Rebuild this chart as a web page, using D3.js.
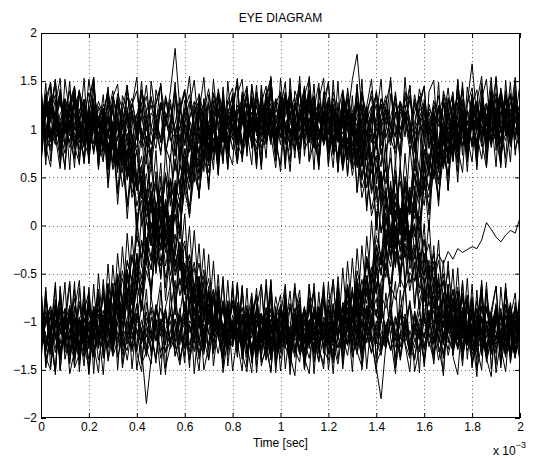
<!DOCTYPE html>
<html>
<head>
<meta charset="utf-8">
<script src="https://cdn.jsdelivr.net/npm/d3@7"></script>
<style>
  body { margin: 0; background: #fff; }
  text { font-family: "Liberation Sans", Arial, Helvetica, sans-serif; fill: #000; }
</style>
</head>
<body>
<svg id="chart" width="535" height="460"></svg>
<script>
// Sample instants of each two-symbol window, in milliseconds
const sampleTimesMs = [0,0.02,0.04,0.06,0.08,0.1,0.12,0.14,0.16,0.18,0.2,0.22,0.24,0.26,0.28,0.3,0.32,0.34,0.36,0.38,0.4,0.42,0.44,0.46,0.48,0.5,0.52,0.54,0.56,0.58,0.6,0.62,0.64,0.66,0.68,0.7,0.72,0.74,0.76,0.78,0.8,0.82,0.84,0.86,0.88,0.9,0.92,0.94,0.96,0.98,1,1.02,1.04,1.06,1.08,1.1,1.12,1.14,1.16,1.18,1.2,1.22,1.24,1.26,1.28,1.3,1.32,1.34,1.36,1.38,1.4,1.42,1.44,1.46,1.48,1.5,1.52,1.54,1.56,1.58,1.6,1.62,1.64,1.66,1.68,1.7,1.72,1.74,1.76,1.78,1.8,1.82,1.84,1.86,1.88,1.9,1.92,1.94,1.96,1.98,2];

const xTickValues = [0,0.2,0.4,0.6,0.8,1,1.2,1.4,1.6,1.8,2];
const yTickValues = [-2,-1.5,-1,-0.5,0,0.5,1,1.5,2];

// Received waveform windows, amplitude in hundredths.
// Grouped by the symbols at t = 0, 1, 2 ms (P = +1, N = -1).
const tracesPPP = [
  [123,92,78,115,131,104,87,69,112,126,98,141,107,83,95,120,76,102,133,118,89,111,146,97,80,124,109,91,72,117,138,101,94,127,85,108,119,66,99,130,113,88,104,143,96,79,121,110,84,128,93,115,137,102,74,106,125,90,117,99,81,132,108,95,120,71,103,139,114,87,98,126,105,83,118,92,134,109,77,100,123,96,112,86,129,107,80,118,141,93,104,75,116,127,99,88,113,136,82,108,119],
  [95,118,134,109,81,97,125,140,103,86,72,108,129,114,90,99,137,121,84,105,116,93,70,101,128,145,112,88,96,119,107,82,124,135,98,77,110,131,94,115,103,86,139,120,91,74,108,126,117,83,100,133,96,112,79,122,140,105,89,118,127,94,73,109,121,102,86,136,113,97,80,115,130,104,92,125,110,78,99,142,117,88,106,123,95,71,112,134,101,85,119,128,93,107,81,114,139,98,90,124,106],
  [108,87,119,136,97,75,103,128,112,90,124,101,79,115,139,94,106,83,121,132,99,113,88,76,110,127,104,139,184,121,96,84,117,130,102,89,125,108,73,114,137,98,106,120,85,111,93,129,104,78,116,133,97,87,122,109,141,100,82,119,105,126,91,113,138,95,76,110,124,99,87,131,115,102,80,118,106,135,93,112,127,84,98,120,109,143,96,79,115,101,88,123,110,94,132,105,77,117,128,99,111],
  [88,112,127,99,142,106,81,95,118,130,104,77,109,122,96,134,113,86,101,125,140,97,83,117,108,91,129,111,74,103,120,136,98,85,114,127,102,89,131,107,79,116,124,93,105,138,100,87,119,112,84,128,109,96,121,143,92,80,115,106,133,99,88,124,110,152,178,118,94,107,126,83,113,101,139,90,117,105,76,122,114,97,130,108,86,119,135,93,104,127,168,111,82,116,99,124,137,95,108,89,118],
  [131,104,90,116,79,98,123,137,109,85,113,96,72,106,128,119,91,102,140,117,94,81,110,125,103,88,134,115,97,76,108,129,101,120,92,84,117,139,106,95,126,111,87,99,133,114,80,105,122,96,109,137,91,78,116,130,102,89,124,112,97,83,118,141,107,93,128,100,115,86,104,132,119,90,75,111,125,98,136,108,92,117,103,81,129,114,99,145,110,87,121,106,94,127,84,113,138,101,96,119,107],
  [62,131,149,88,107,58,124,143,71,96,152,113,67,84,138,101,55,119,146,79,93,128,64,150,110,73,135,97,57,122,141,86,68,117,154,92,76,133,105,60,127,148,81,99,63,139,115,70,151,94,56,121,137,78,104,145,66,89,130,153,74,112,59,140,98,82,147,65,118,134,87,61,126,150,95,72,139,108,57,123,144,80,101,62,136,117,69,152,91,77,129,58,142,106,85,155,68,114,137,79,96],
  [145,83,61,118,139,97,150,72,109,64,127,154,86,99,58,133,115,69,146,91,76,140,121,60,103,148,82,66,131,112,57,125,151,94,73,136,107,63,144,87,119,153,70,98,129,61,142,84,111,67,138,100,56,123,147,79,90,134,62,116,150,85,71,128,104,59,141,93,124,68,113,152,77,96,135,63,120,145,88,58,131,102,74,149,66,117,139,81,55,126,143,95,69,110,154,78,132,60,105,140,84]
];
const tracesNNN = [
  [-112,-89,-127,-101,-78,-118,-135,-96,-107,-84,-121,-99,-140,-113,-87,-104,-126,-92,-75,-110,-131,-98,-116,-85,-102,-138,-119,-90,-106,-124,-79,-111,-97,-133,-120,-88,-103,-115,-142,-94,-108,-83,-125,-117,-96,-74,-109,-130,-101,-122,-91,-114,-136,-105,-86,-119,-98,-128,-111,-80,-97,-123,-144,-107,-89,-115,-102,-132,-118,-93,-76,-110,-126,-99,-113,-137,-95,-84,-121,-106,-129,-100,-88,-116,-134,-109,-92,-119,-103,-81,-114,-139,-97,-108,-125,-90,-117,-131,-86,-104,-120],
  [-94,-121,-108,-83,-130,-115,-99,-76,-112,-137,-103,-88,-119,-126,-95,-109,-81,-134,-117,-100,-91,-128,-185,-139,-105,-86,-113,-122,-97,-141,-110,-84,-118,-102,-129,-93,-79,-116,-135,-107,-98,-124,-111,-87,-140,-120,-92,-105,-131,-114,-82,-101,-127,-96,-117,-143,-108,-89,-123,-99,-112,-136,-85,-104,-125,-97,-118,-78,-109,-132,-115,-90,-106,-129,-101,-87,-122,-138,-94,-111,-127,-103,-80,-116,-133,-98,-107,-124,-89,-113,-142,-100,-119,-86,-105,-128,-111,-95,-134,-117,-92],
  [-106,-131,-95,-117,-88,-102,-124,-139,-110,-81,-99,-115,-128,-93,-107,-136,-120,-85,-101,-113,-126,-79,-104,-118,-97,-132,-109,-90,-123,-145,-111,-87,-100,-121,-134,-96,-114,-83,-108,-127,-119,-92,-138,-105,-84,-116,-129,-98,-112,-74,-103,-125,-141,-94,-109,-120,-86,-117,-131,-100,-89,-113,-127,-106,-96,-135,-118,-82,-104,-122,-148,-180,-124,-99,-115,-87,-110,-133,-102,-119,-91,-126,-108,-140,-114,-97,-121,-85,-103,-130,-116,-93,-107,-137,-120,-88,-111,-125,-99,-134,-105],
  [-125,-98,-84,-113,-137,-106,-92,-119,-101,-130,-87,-110,-123,-96,-141,-114,-103,-78,-117,-128,-94,-108,-132,-120,-89,-105,-116,-99,-135,-111,-82,-124,-107,-93,-118,-139,-101,-86,-112,-127,-104,-95,-133,-115,-80,-109,-122,-97,-136,-113,-90,-119,-105,-128,-142,-98,-84,-111,-126,-102,-117,-131,-93,-108,-120,-85,-114,-138,-100,-123,-109,-77,-115,-129,-96,-118,-104,-134,-91,-112,-140,-106,-88,-121,-99,-116,-131,-95,-110,-125,-83,-107,-119,-136,-101,-92,-114,-128,-97,-110,-122],
  [-97,-114,-132,-90,-108,-121,-83,-103,-127,-116,-139,-100,-88,-111,-125,-94,-118,-106,-82,-131,-109,-122,-96,-113,-138,-101,-86,-119,-128,-93,-105,-140,-117,-98,-124,-89,-110,-133,-102,-115,-126,-91,-107,-120,-99,-137,-112,-85,-104,-129,-118,-96,-81,-110,-134,-123,-100,-113,-92,-127,-106,-143,-115,-88,-101,-121,-130,-97,-109,-84,-119,-135,-103,-112,-94,-126,-117,-80,-108,-131,-99,-114,-124,-90,-138,-105,-111,-127,-95,-118,-102,-86,-129,-116,-107,-133,-93,-120,-111,-98,-125],
  [-63,-142,-118,-77,-151,-95,-58,-130,-109,-146,-71,-124,-153,-88,-102,-60,-137,-116,-74,-149,-97,-65,-128,-144,-83,-110,-155,-69,-121,-92,-57,-139,-105,-79,-150,-126,-66,-98,-143,-86,-114,-61,-133,-152,-90,-72,-127,-108,-56,-141,-119,-80,-147,-64,-101,-136,-75,-154,-93,-68,-131,-112,-59,-145,-87,-122,-70,-150,-104,-62,-138,-96,-125,-73,-148,-115,-58,-132,-89,-153,-67,-120,-140,-84,-106,-61,-135,-99,-146,-78,-111,-157,-71,-129,-94,-63,-143,-117,-82,-134,-100],
  [-134,-76,-105,-152,-63,-119,-141,-88,-57,-127,-146,-94,-69,-138,-112,-60,-150,-83,-123,-99,-66,-144,-131,-74,-108,-155,-85,-62,-136,-117,-92,-148,-70,-125,-58,-140,-103,-79,-153,-115,-64,-129,-97,-147,-73,-110,-139,-56,-121,-86,-151,-106,-68,-133,-91,-145,-61,-118,-142,-77,-101,-154,-84,-126,-65,-137,-113,-72,-149,-95,-59,-130,-116,-81,-146,-67,-124,-152,-89,-108,-143,-62,-120,-98,-156,-75,-132,-111,-60,-139,-87,-127,-150,-70,-104,-145,-64,-118,-135,-80,-122]
];
const tracesPPN = [
  [117,94,82,109,128,101,86,123,139,97,111,78,104,126,115,92,133,107,88,120,99,141,113,84,96,125,108,131,90,102,118,76,105,129,112,93,137,100,87,121,110,96,134,81,106,124,99,115,143,89,103,127,92,116,79,108,130,95,119,104,112,78,115,87,117,73,90,51,85,54,72,24,39,-4,24,-9,10,-37,-20,-65,-35,-71,-43,-92,-74,-107,-75,-106,-75,-114,-91,-118,-96,-129,-105,-84,-112,-137,-99,-108,-123],
  [102,125,89,113,137,96,108,80,119,131,94,106,122,87,115,140,99,83,111,127,105,91,118,134,98,77,112,124,101,88,130,109,95,121,84,103,138,116,92,107,126,99,81,114,133,97,110,86,120,104,91,128,113,100,82,117,135,82,113,89,116,75,98,57,90,60,78,29,53,17,41,-8,13,-32,-12,-46,-18,-60,-42,-88,-62,-97,-67,-100,-77,-122,-86,-107,-94,-121,-110,-86,-133,-102,-117,-91,-126,-108,-80,-115,-139],
  [91,114,130,103,85,120,97,136,110,82,123,106,94,117,139,100,88,128,112,75,108,121,98,132,115,86,104,126,93,119,141,101,84,113,127,96,109,122,90,117,134,99,80,106,125,114,92,138,103,87,118,129,97,111,83,124,106,135,94,116,101,125,108,82,121,83,98,67,99,65,89,45,59,19,47,10,31,-15,0,-40,-14,-49,-29,-76,-57,-96,-66,-96,-70,-109,-88,-118,-84,-103,-127,-95,-114,-88,-131,-106,-119],
  [109,135,98,84,116,127,93,105,140,119,87,101,124,112,79,96,131,108,120,90,114,137,102,85,99,128,117,94,106,133,83,111,125,97,118,142,104,89,115,100,122,92,107,136,81,113,126,98,110,88,129,103,95,121,137,108,86,117,99,87,118,76,105,105,68,102,60,77,39,67,31,52,5,20,-21,5,-33,-7,-58,-39,-79,-51,-84,-60,-102,-82,-117,-81,-109,-80,-112,-97,-128,-104,-89,-122,-115,-134,-100,-86,-118],
  [126,97,112,88,104,131,118,92,79,115,138,106,95,121,109,84,127,100,116,93,81,119,134,103,90,124,111,97,142,108,86,113,129,99,117,94,105,136,122,89,102,118,83,125,110,96,133,107,91,120,114,87,139,101,98,123,106,128,93,111,99,122,88,107,77,106,94,62,97,55,73,42,60,11,33,-3,22,-22,-2,-54,-29,-66,-37,-78,-57,-102,-76,-107,-76,-110,-77,-115,-97,-124,-109,-88,-131,-102,-116,-93,-127],
  [138,72,119,151,87,61,128,145,96,66,113,150,79,104,58,133,147,90,70,125,154,84,109,63,141,118,75,99,149,68,122,92,57,137,115,80,152,101,64,130,143,86,71,127,108,59,146,95,117,74,134,62,153,89,105,139,67,121,148,83,100,60,128,64,120,65,129,61,112,36,94,26,85,12,67,-10,44,-28,27,-51,2,-76,-21,-96,-36,-103,-45,-118,-57,-122,-61,-132,-70,-141,-88,-63,-126,-152,-95,-70,-134],
  [67,124,148,93,59,116,140,81,102,153,76,129,61,111,144,88,65,135,120,57,97,150,84,68,126,146,73,107,139,62,118,155,90,71,131,99,58,142,114,79,63,136,152,86,104,69,127,145,94,60,121,149,78,110,64,133,98,147,69,132,61,124,57,123,53,109,35,96,20,75,-5,51,-23,35,-41,15,-60,-7,-86,-29,-102,-42,-111,-50,-124,-66,-134,-69,-127,-72,-148,-106,-61,-137,-90,-153,-118,-66,-129,-84,-145]
];
const tracesNNP = [
  [-104,-127,-91,-116,-138,-99,-85,-112,-123,-96,-108,-132,-117,-89,-101,-126,-94,-113,-140,-105,-82,-119,-107,-130,-98,-115,-88,-124,-111,-93,-136,-103,-120,-86,-109,-129,-97,-114,-80,-118,-125,-100,-92,-133,-110,-87,-121,-106,-139,-95,-113,-128,-84,-102,-117,-131,-99,-90,-122,-108,-116,-114,-79,-109,-78,-112,-74,-89,-52,-83,-48,-70,-23,-43,0,-27,14,-11,37,22,61,36,77,47,86,64,109,81,110,79,110,79,113,96,128,104,87,120,137,99,110],
  [-93,-115,-130,-102,-86,-121,-109,-137,-98,-112,-124,-90,-106,-118,-81,-133,-100,-127,-114,-95,-109,-140,-103,-88,-120,-97,-131,-111,-84,-117,-126,-99,-107,-135,-92,-113,-122,-86,-104,-129,-111,-96,-118,-83,-134,-105,-91,-123,-110,-100,-128,-94,-115,-137,-102,-87,-119,-108,-84,-114,-77,-104,-77,-109,-68,-91,-47,-71,-34,-60,-21,-41,8,-13,32,9,48,20,62,41,88,65,101,72,103,75,114,86,118,93,108,125,87,114,131,102,96,119,84,110,127],
  [-118,-97,-84,-110,-129,-106,-93,-121,-139,-101,-88,-114,-125,-99,-108,-133,-91,-117,-104,-126,-81,-112,-136,-95,-120,-103,-89,-128,-115,-98,-107,-131,-86,-119,-102,-124,-94,-113,-140,-109,-83,-116,-127,-100,-92,-122,-111,-135,-97,-105,-119,-88,-130,-108,-96,-114,-125,-90,-103,-117,-109,-81,-118,-83,-72,-100,-59,-84,-53,-81,-31,-52,-9,-35,-1,-20,26,11,54,26,59,38,81,55,92,79,112,82,108,78,114,101,126,92,115,138,104,88,121,109,96],
  [-99,-123,-110,-87,-134,-116,-101,-92,-127,-108,-119,-137,-95,-106,-124,-85,-113,-130,-100,-118,-91,-109,-126,-114,-82,-103,-132,-120,-97,-111,-128,-89,-105,-139,-116,-94,-121,-107,-86,-125,-112,-98,-131,-104,-117,-90,-135,-109,-122,-96,-84,-115,-127,-102,-93,-120,-138,-106,-113,-99,-124,-89,-111,-80,-111,-90,-114,-69,-98,-66,-95,-58,-42,-69,-27,-52,-4,-21,19,-6,41,19,57,29,72,51,95,71,104,71,104,83,119,89,116,99,131,107,92,124,112],
  [-111,-88,-126,-103,-95,-132,-117,-84,-109,-121,-100,-136,-92,-114,-127,-105,-81,-118,-130,-97,-108,-123,-90,-115,-139,-102,-94,-119,-111,-86,-125,-104,-131,-96,-112,-82,-120,-107,-135,-99,-117,-89,-128,-106,-93,-122,-113,-140,-98,-110,-87,-124,-116,-101,-133,-92,-108,-119,-96,-117,-86,-106,-74,-105,-69,-101,-63,-80,-38,-62,-24,-49,-10,-32,15,1,42,14,51,31,79,56,92,59,100,73,116,89,114,80,107,129,94,115,86,122,103,136,98,111,90],
  [-128,-64,-147,-101,-73,-139,-116,-58,-152,-89,-69,-133,-108,-155,-82,-121,-61,-144,-97,-74,-150,-113,-66,-136,-92,-59,-148,-125,-79,-104,-143,-63,-118,-151,-86,-70,-131,-110,-57,-146,-99,-137,-68,-124,-153,-81,-114,-62,-140,-95,-72,-149,-106,-60,-134,-120,-85,-68,-133,-62,-124,-56,-119,-44,-104,-34,-95,-21,-74,5,-51,24,-29,46,-12,61,5,83,31,102,41,112,51,124,65,133,67,128,73,144,109,62,131,152,88,119,66,140,97,151,78],
  [-76,-141,-112,-59,-150,-93,-127,-66,-145,-104,-155,-84,-119,-62,-137,-98,-71,-148,-115,-60,-132,-152,-80,-108,-143,-67,-124,-90,-57,-139,-117,-74,-154,-96,-129,-63,-146,-102,-78,-135,-58,-122,-151,-87,-110,-65,-142,-130,-73,-153,-94,-61,-138,-116,-82,-149,-105,-69,-127,-144,-88,-56,-121,-130,-64,-131,-58,-120,-53,-117,-43,-101,-23,-81,-6,-64,16,-40,33,-25,51,-6,75,20,96,36,108,45,117,56,128,69,135,69,148,91,63,137,115,154,76]
];
const tracesPNP = [
  [106,129,91,117,98,84,122,135,103,112,84,118,87,117,82,101,60,84,50,79,37,57,9,33,-5,20,-28,-7,-40,-20,-67,-47,-89,-58,-91,-68,-106,-84,-117,-85,-112,-97,-124,-108,-89,-131,-115,-102,-93,-120,-138,-106,-85,-117,-127,-99,-111,-134,-92,-104,-122,-87,-119,-82,-107,-71,-103,-70,-94,-50,-70,-28,-54,-13,-40,2,-17,31,7,43,21,66,50,87,59,94,66,107,83,118,83,111,96,123,108,87,132,101,115,93,126],
  [94,118,133,102,87,114,125,99,111,81,113,74,108,77,100,58,79,40,71,29,47,0,27,-12,9,-37,-18,-63,-35,-73,-46,-85,-63,-107,-78,-112,-77,-109,-83,-116,-101,-129,-92,-110,-135,-98,-121,-87,-107,-126,-113,-95,-140,-104,-118,-89,-124,-100,-112,-119,-87,-112,-76,-102,-66,-96,-65,-85,-39,-65,-20,-41,-3,-30,16,-1,43,15,54,30,76,53,95,69,102,72,109,87,119,86,112,97,130,105,88,121,139,100,116,92,108],
  [119,95,108,131,86,113,124,100,139,92,117,104,90,120,80,108,71,104,68,94,49,72,34,61,20,40,-10,11,-24,0,-50,-30,-63,-39,-77,-55,-95,-75,-112,-79,-111,-80,-118,-103,-127,-94,-112,-86,-120,-136,-99,-109,-123,-91,-115,-130,-101,-88,-118,-107,-133,-96,-82,-112,-78,-112,-79,-106,-65,-87,-46,-77,-39,-61,-17,-36,11,-14,28,1,45,29,70,43,79,54,98,76,111,79,111,79,117,98,125,110,89,133,106,94,120],
  [101,126,88,115,137,97,109,84,121,119,85,108,76,106,66,92,59,89,49,64,20,42,4,32,-16,3,-42,-15,-52,-30,-72,-51,-94,-70,-101,-69,-108,-84,-120,-90,-113,-98,-125,-105,-88,-134,-117,-96,-109,-128,-92,-114,-139,-102,-120,-87,-111,-124,-99,-106,-112,-82,-119,-85,-108,-68,-93,-56,-81,-43,-71,-28,-47,-1,-24,18,-10,33,13,62,39,75,48,87,61,103,79,114,82,109,81,124,103,90,117,131,96,112,85,127,108],
  [113,90,127,104,96,132,118,87,109,123,99,79,112,82,114,79,108,62,87,58,77,28,54,13,43,-2,17,-30,-9,-47,-21,-62,-44,-85,-52,-94,-71,-111,-82,-114,-78,-110,-121,-94,-108,-133,-100,-117,-86,-126,-111,-97,-138,-104,-115,-90,-123,-107,-90,-117,-85,-116,-75,-99,-61,-90,-55,-80,-32,-53,-10,-34,6,-20,24,3,51,27,67,39,78,58,103,74,109,85,115,87,121,95,114,128,101,86,119,107,135,93,110,124,98],
  [146,71,118,152,63,129,97,130,63,131,64,127,58,115,39,97,22,82,7,68,-9,45,-33,26,-50,3,-78,-19,-93,-31,-104,-48,-122,-60,-131,-69,-133,-63,-148,-82,-121,-59,-139,-104,-70,-153,-95,-128,-63,-146,-111,-76,-135,-156,-88,-117,-61,-142,-99,-72,-150,-107,-65,-129,-62,-128,-60,-123,-52,-108,-30,-90,-16,-77,-1,-56,23,-36,41,-13,67,11,85,26,98,37,115,56,127,66,131,64,130,74,139,112,60,151,93,126,68],
  [64,137,108,151,79,122,58,143,96,71,130,154,86,66,130,62,130,62,120,44,104,32,93,19,78,1,55,-26,30,-45,12,-65,-5,-79,-24,-98,-37,-111,-53,-127,-66,-131,-64,-130,-91,-147,-62,-118,-153,-84,-129,-67,-141,-105,-75,-150,-98,-133,-69,-133,-59,-122,-53,-111,-37,-100,-24,-86,-11,-65,15,-41,34,-23,57,1,75,13,90,33,110,51,122,58,131,68,133,65,143,92,66,128,155,81,114,61,137,102,149,73,120]
];
const tracesNPN = [
  [-108,-125,-93,-117,-101,-86,-130,-112,-97,-121,-85,-118,-86,-111,-70,-99,-63,-94,-54,-74,-29,-55,-12,-33,10,-11,27,2,44,25,72,48,85,61,101,70,105,75,110,82,119,97,123,108,86,131,114,100,92,126,139,105,118,88,110,135,99,121,94,113,86,120,86,111,71,100,64,95,56,76,30,56,18,41,-7,13,-31,-5,-44,-21,-61,-42,-87,-60,-97,-68,-104,-75,-112,-82,-120,-96,-113,-129,-104,-88,-122,-110,-137,-99,-116],
  [-97,-114,-131,-105,-89,-122,-108,-136,-95,-117,-128,-101,-112,-111,-82,-118,-81,-104,-65,-92,-58,-88,-47,-67,-20,-42,-4,-29,12,-6,43,20,59,33,72,46,91,69,107,74,106,77,115,89,118,102,129,93,111,87,124,136,106,98,115,132,90,109,121,84,127,103,116,86,119,78,103,66,97,62,86,38,62,23,52,7,21,-19,2,-41,-15,-55,-29,-71,-50,-95,-68,-103,-70,-107,-80,-119,-87,-109,-126,-94,-115,-133,-101,-120,-90],
  [-119,-102,-88,-127,-111,-94,-135,-106,-79,-111,-80,-116,-80,-104,-60,-86,-50,-79,-36,-58,-9,-34,6,-21,23,4,53,29,69,43,78,54,97,76,112,80,110,81,115,102,126,91,113,138,97,109,122,85,116,131,100,94,119,107,140,88,112,81,113,88,116,73,99,60,91,52,80,39,57,10,32,-6,22,-23,-4,-51,-28,-68,-38,-80,-55,-102,-73,-109,-73,-109,-81,-116,-98,-124,-107,-89,-132,-115,-101,-119,-93,-128,-110,-85,-121],
  [-103,-129,-115,-92,-108,-121,-86,-134,-99,-112,-125,-113,-79,-113,-83,-110,-71,-93,-53,-83,-49,-69,-25,-46,0,-23,18,-10,34,16,63,37,78,55,90,62,99,75,115,85,117,85,111,94,128,103,87,120,136,98,115,106,82,124,109,131,95,117,101,89,126,113,97,112,79,114,82,111,71,95,55,80,43,70,28,46,2,24,-12,10,-36,-19,-60,-36,-75,-47,-86,-64,-107,-78,-111,-78,-111,-84,-117,-96,-130,-108,-89,-123,-104],
  [-91,-116,-134,-100,-123,-87,-110,-128,-97,-88,-120,-84,-107,-74,-107,-68,-88,-47,-72,-33,-61,-17,-39,2,-14,31,9,49,20,63,45,87,62,95,67,104,78,119,87,114,93,121,107,134,99,86,118,110,127,95,104,139,116,90,112,125,101,83,120,89,116,79,109,79,107,67,86,47,73,33,61,19,35,-10,11,-27,-1,-45,-24,-70,-46,-84,-54,-93,-70,-111,-81,-115,-86,-121,-105,-88,-119,-131,-97,-112,-126,-93,-108,-137,-101],
  [-139,-68,-121,-152,-85,-107,-61,-145,-96,-130,-73,-154,-67,-136,-68,-129,-55,-118,-46,-107,-30,-89,-16,-77,0,-56,20,-34,47,-10,66,8,86,29,101,38,112,52,124,58,128,65,136,72,145,109,63,131,152,88,120,59,141,97,68,135,153,84,69,135,64,125,55,120,51,111,34,90,15,74,0,56,-27,31,-44,16,-64,-11,-86,-28,-101,-38,-112,-52,-121,-61,-133,-68,-134,-75,-146,-112,-63,-138,-157,-90,-124,-66,-143,-101,-80],
  [-71,-148,-116,-63,-140,-95,-154,-130,-65,-134,-64,-126,-50,-112,-40,-103,-29,-85,-8,-68,9,-44,36,-21,56,-2,78,20,93,32,105,45,121,61,132,65,130,64,139,81,117,152,66,127,98,146,74,110,155,85,63,134,119,70,148,92,129,58,143,105,77,151,88,134,69,135,62,122,51,116,43,103,25,81,4,64,-15,40,-35,24,-52,6,-71,-15,-95,-37,-108,-44,-117,-55,-130,-67,-135,-66,-149,-92,-126,-60,-141,-110,-73]
];
const tracesPNN = [
  [115,98,131,86,109,124,102,137,93,118,88,115,78,108,76,106,70,92,47,70,36,62,15,32,-11,16,-22,-1,-48,-30,-70,-41,-79,-53,-96,-73,-111,-78,-110,-78,-113,-96,-121,-108,-87,-133,-114,-102,-126,-91,-118,-105,-139,-99,-112,-84,-124,-110,-131,-95,-107,-120,-88,-116,-135,-101,-93,-127,-111,-98,-123,-86,-109,-130,-117,-103,-92,-125,-140,-106,-114,-97,-122,-89,-113,-129,-100,-118,-85,-108,-134,-119,-94,-111,-127,-102,-90,-115,-132,-104,-121],
  [104,127,92,113,138,99,86,117,86,117,74,104,71,101,62,83,38,61,24,51,9,26,-20,1,-38,-10,-54,-34,-80,-55,-90,-60,-99,-73,-116,-87,-115,-80,-110,-126,-93,-115,-104,-88,-131,-119,-97,-108,-136,-101,-123,-90,-114,-127,-106,-85,-118,-112,-99,-129,-140,-105,-92,-117,-124,-96,-111,-133,-87,-120,-103,-115,-128,-94,-109,-137,-100,-122,-113,-89,-125,-106,-98,-131,-116,-91,-119,-104,-135,-110,-96,-121,-127,-86,-112,-124,-101,-117,-93,-130,-107],
  [96,119,133,107,88,124,112,99,141,91,116,103,114,78,110,81,112,74,96,53,78,45,70,29,48,1,22,-14,11,-32,-16,-61,-38,-75,-46,-85,-66,-108,-79,-110,-78,-110,-85,-117,-101,-128,-94,-110,-136,-105,-89,-122,-113,-98,-131,-107,-119,-84,-126,-103,-115,-139,-96,-111,-124,-90,-108,-130,-118,-100,-87,-125,-114,-102,-137,-93,-120,-109,-127,-97,-116,-88,-133,-106,-121,-112,-95,-129,-104,-118,-91,-123,-110,-99,-134,-115,-86,-120,-107,-128,-101],
  [121,100,87,114,130,95,108,126,92,85,120,85,111,70,99,65,93,55,80,34,53,11,37,-2,21,-26,-9,-52,-25,-62,-39,-82,-62,-101,-71,-103,-74,-113,-87,-118,-103,-125,-94,-111,-137,-99,-116,-88,-129,-107,-120,-96,-113,-132,-101,-90,-124,-109,-141,-115,-93,-106,-127,-118,-85,-112,-134,-100,-122,-97,-110,-130,-104,-89,-119,-126,-95,-114,-138,-102,-117,-91,-123,-108,-99,-135,-111,-87,-128,-105,-120,-94,-113,-131,-100,-118,-92,-125,-109,-136,-97],
  [109,134,96,118,84,103,127,113,91,122,100,121,83,111,76,105,67,93,57,87,43,63,21,45,4,30,-16,3,-41,-17,-58,-30,-72,-53,-94,-68,-104,-71,-108,-84,-119,-87,-114,-98,-127,-105,-91,-120,-136,-102,-117,-88,-124,-110,-96,-131,-107,-119,-85,-128,-112,-100,-139,-93,-116,-104,-125,-90,-113,-133,-99,-121,-108,-87,-126,-115,-97,-130,-103,-118,-92,-111,-135,-101,-123,-94,-109,-128,-116,-89,-106,-120,-98,-132,-112,-86,-125,-104,-117,-137,-95],
  [92,148,67,125,153,81,110,60,139,118,74,146,101,136,68,133,59,121,53,118,44,101,23,81,6,65,-9,46,-31,25,-55,-1,-77,-19,-94,-30,-107,-51,-123,-57,-126,-62,-129,-65,-143,-86,-61,-128,-151,-97,-119,-68,-145,-106,-75,-138,-154,-90,-113,-59,-134,-122,-71,-149,-101,-64,-131,-147,-83,-116,-153,-69,-125,-94,-58,-140,-109,-78,-152,-127,-66,-99,-144,-87,-120,-62,-136,-155,-92,-73,-130,-111,-57,-142,-118,-81,-148,-65,-103,-137,-76],
  [128,63,144,97,71,152,115,82,65,129,65,132,61,121,45,105,33,95,19,76,-5,52,-25,33,-47,9,-65,-5,-81,-24,-100,-37,-111,-53,-127,-64,-133,-63,-130,-88,-151,-114,-62,-137,-99,-72,-146,-124,-58,-133,-105,-80,-155,-91,-67,-141,-118,-60,-127,-149,-84,-110,-65,-139,-96,-152,-76,-121,-103,-57,-143,-130,-70,-117,-154,-86,-63,-135,-108,-79,-147,-98,-61,-126,-153,-89,-115,-68,-140,-102,-74,-150,-123,-59,-132,-94,-145,-82,-111,-138,-66]
];
const tracesNPP = [
  [-112,-95,-128,-103,-87,-121,-109,-134,-98,-116,-87,-116,-77,-108,-75,-108,-69,-92,-46,-71,-33,-62,-18,-37,11,-13,27,0,44,24,71,46,83,53,93,70,112,83,115,78,112,96,123,108,87,131,115,102,139,93,119,106,84,127,112,98,135,120,91,109,124,101,88,117,132,97,113,126,85,110,137,99,121,104,92,129,116,89,107,134,100,118,95,125,111,86,130,103,122,94,114,128,90,105,136,98,119,112,87,124,102],
  [-99,-124,-111,-86,-130,-105,-117,-93,-138,-108,-120,-96,-114,-120,-87,-114,-75,-103,-70,-102,-61,-84,-37,-63,-25,-52,-8,-26,22,-3,37,11,54,33,80,55,91,60,100,75,116,85,116,80,113,97,126,104,89,132,118,101,94,123,109,137,86,115,128,99,107,121,92,134,103,117,88,125,111,96,140,106,119,90,127,100,114,85,131,108,122,95,116,103,129,91,112,138,98,120,105,87,124,110,97,133,115,102,89,126,108],
  [-126,-101,-88,-115,-133,-97,-110,-122,-83,-112,-79,-116,-78,-103,-61,-86,-51,-80,-38,-57,-11,-33,6,-21,22,5,51,29,66,38,80,58,102,75,107,74,110,83,120,104,89,118,131,96,110,125,100,137,92,115,107,84,122,133,98,112,120,90,127,106,94,139,113,101,86,119,128,97,109,124,88,116,135,103,93,121,108,130,99,114,87,126,105,118,132,95,111,123,100,91,136,107,117,85,129,112,98,120,104,133,94],
  [-106,-131,-92,-118,-100,-125,-87,-113,-139,-97,-120,-112,-78,-112,-79,-110,-75,-97,-54,-80,-43,-70,-29,-46,0,-22,15,-10,33,15,61,37,75,47,86,65,107,78,111,78,112,84,119,102,135,93,111,124,88,107,130,98,116,127,91,105,138,113,100,86,121,109,95,132,117,103,126,90,112,140,99,108,123,87,114,129,101,96,118,134,106,92,125,110,97,131,115,89,120,104,137,100,111,93,128,116,85,122,106,133,98],
  [-118,-94,-107,-132,-100,-123,-89,-115,-129,-81,-111,-85,-115,-70,-100,-65,-95,-55,-75,-30,-54,-15,-41,3,-16,30,8,47,21,63,43,87,61,97,67,104,79,118,86,116,98,125,110,87,133,104,119,92,138,107,114,95,128,101,89,122,136,106,117,93,130,111,99,124,85,116,103,139,94,120,108,126,91,113,134,100,118,88,127,105,96,121,112,135,90,109,124,102,131,97,115,86,123,106,140,99,117,128,93,110,126],
  [-64,-137,-150,-82,-113,-59,-144,-98,-127,-70,-153,-106,-66,-131,-62,-125,-58,-124,-50,-108,-31,-89,-15,-72,6,-54,20,-36,41,-14,65,11,86,28,102,37,111,53,128,65,132,66,130,76,147,112,61,135,153,90,121,67,142,99,155,72,128,108,58,139,117,84,150,63,131,96,146,70,124,152,87,110,60,137,103,78,154,93,64,129,145,81,115,57,140,120,69,151,98,75,133,106,148,62,126,91,143,113,66,138,85],
  [-141,-78,-112,-155,-66,-129,-95,-148,-133,-63,-128,-61,-127,-56,-116,-41,-97,-22,-83,-11,-67,13,-40,36,-23,51,-6,74,20,95,36,108,45,118,56,128,68,135,67,150,93,64,127,145,80,111,58,136,119,71,153,102,66,140,124,85,155,97,61,130,148,77,114,59,143,106,89,152,68,121,137,74,100,154,63,128,92,146,83,115,57,139,151,79,108,65,133,96,149,72,125,141,88,60,118,153,99,70,134,110,147]
];
// Last window of the record: the signal dies away towards zero
const finalTrace = [112,96,123,101,88,117,106,130,94,109,92,113,86,104,77,97,68,86,57,73,38,51,17,33,1,11,-23,-11,-43,-27,-60,-47,-81,-64,-93,-74,-101,-83,-112,-89,-109,-97,-118,-104,-89,-126,-110,-95,-121,-107,-132,-99,-113,-86,-119,-102,-128,-94,-111,-124,-100,-115,-90,-108,-122,-96,-112,-88,-101,-79,-94,-72,-86,-63,-77,-55,-68,-49,-58,-41,-52,-36,-45,-30,-40,-27,-35,-24,-28,-25,-22,-24,-15,3,-4,-12,-17,-10,-5,-8,8];

const traceGroups = [tracesPPP, tracesNNN, tracesPPN, tracesNNP, tracesPNP, tracesNPN, tracesPNN, tracesNPP, [finalTrace]];

// ---- layout ----
const W = 535, H = 460;
const plot = { left: 41, right: 520, top: 33, bottom: 418 };

const x = d3.scaleLinear().domain([0, 2]).range([plot.left, plot.right]);
const y = d3.scaleLinear().domain([-2, 2]).range([plot.bottom, plot.top]);
const fmt = d3.format("~g");

const svg = d3.select("#chart");
svg.append("rect").attr("width", W).attr("height", H).attr("fill", "#fff");

svg.append("defs").append("clipPath").attr("id", "plot-clip")
  .append("rect")
  .attr("x", plot.left).attr("y", plot.top)
  .attr("width", plot.right - plot.left).attr("height", plot.bottom - plot.top);

// dotted grid
const grid = svg.append("g")
  .attr("stroke", "#000").attr("stroke-width", 1)
  .attr("stroke-dasharray", "1,3").attr("stroke-opacity", 0.6);
grid.selectAll("line.vx")
  .data(xTickValues.filter(v => v > 0 && v < 2))
  .join("line")
  .attr("x1", d => Math.round(x(d)) + 0.5).attr("x2", d => Math.round(x(d)) + 0.5)
  .attr("y1", plot.top).attr("y2", plot.bottom);
grid.selectAll("line.hy")
  .data(yTickValues.filter(v => v > -2 && v < 2))
  .join("line")
  .attr("y1", d => Math.round(y(d)) + 0.5).attr("y2", d => Math.round(y(d)) + 0.5)
  .attr("x1", plot.left).attr("x2", plot.right);

// eye traces
const line = d3.line()
  .defined((d, i) => i < sampleTimesMs.length)
  .x((d, i) => x(sampleTimesMs[i]))
  .y(d => y(d / 100));

const traces = svg.append("g").attr("clip-path", "url(#plot-clip)");
traceGroups.forEach(group => {
  traces.append("g").selectAll("path")
    .data(group)
    .join("path")
    .attr("d", line)
    .attr("fill", "none")
    .attr("stroke", "#000")
    .attr("stroke-width", 1)
    .attr("stroke-linejoin", "miter");
});

// axes with inward ticks on all four sides
function styleAxis(g) {
  g.select(".domain").remove();
  g.selectAll(".tick line").attr("stroke", "#000");
  g.selectAll(".tick text").attr("font-size", 12).attr("fill", "#000")
    .attr("font-family", '"Liberation Sans", Arial, Helvetica, sans-serif');
}
svg.append("g").attr("transform", `translate(0,${plot.bottom})`)
  .call(d3.axisBottom(x).tickValues(xTickValues).tickFormat(fmt)
    .tickSizeInner(-5).tickSizeOuter(0).tickPadding(4))
  .call(styleAxis);
svg.append("g").attr("transform", `translate(0,${plot.top})`)
  .call(d3.axisTop(x).tickValues(xTickValues).tickFormat("")
    .tickSizeInner(-5).tickSizeOuter(0))
  .call(styleAxis);
svg.append("g").attr("transform", `translate(${plot.left},0)`)
  .call(d3.axisLeft(y).tickValues(yTickValues).tickFormat(fmt)
    .tickSizeInner(-5).tickSizeOuter(0).tickPadding(4))
  .call(styleAxis);
svg.append("g").attr("transform", `translate(${plot.right},0)`)
  .call(d3.axisRight(y).tickValues(yTickValues).tickFormat("")
    .tickSizeInner(-5).tickSizeOuter(0))
  .call(styleAxis);

// frame
svg.append("rect")
  .attr("x", plot.left + 0.5).attr("y", plot.top + 0.5)
  .attr("width", plot.right - plot.left - 1).attr("height", plot.bottom - plot.top - 1)
  .attr("fill", "none").attr("stroke", "#000").attr("stroke-width", 1);

// titles
svg.append("text")
  .attr("x", (plot.left + plot.right) / 2).attr("y", 22)
  .attr("text-anchor", "middle").attr("font-size", 12)
  .text("EYE DIAGRAM");
svg.append("text")
  .attr("x", (plot.left + plot.right) / 2).attr("y", 447)
  .attr("text-anchor", "middle").attr("font-size", 12)
  .text("Time [sec]");
const expo = svg.append("text")
  .attr("x", 493).attr("y", 455).attr("font-size", 12);
expo.append("tspan").text("x 10");
expo.append("tspan").attr("dy", -7).attr("font-size", 9).text("\u22123");
</script>
</body>
</html>
